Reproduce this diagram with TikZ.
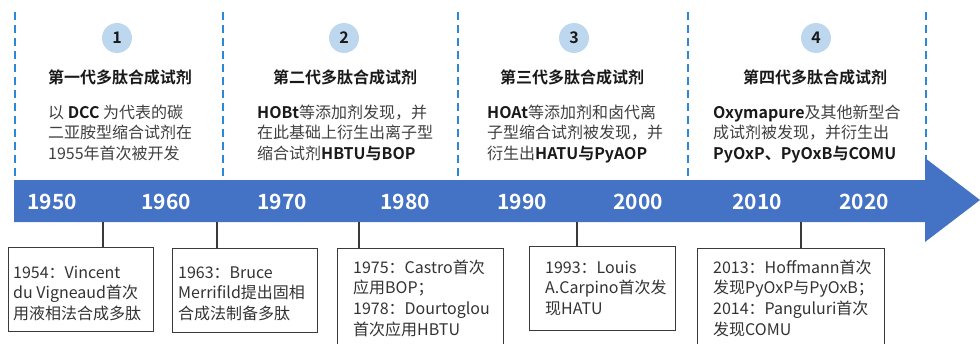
\documentclass[tikz,border=0pt]{standalone}
\usepackage{fontspec}
\setmainfont{Noto Sans CJK SC}[BoldFont={Noto Sans CJK SC Bold}]
\definecolor{barblue}{HTML}{4472C4}
\definecolor{dashblue}{RGB}{45,135,215}
\definecolor{circfill}{HTML}{BDD7EE}
\definecolor{bodygray}{HTML}{404040}
\definecolor{boxgray}{HTML}{333333}
\definecolor{linegray}{HTML}{3A3A3A}
\newcommand\fl{\rule{0pt}{15pt}}
\newcommand\B[1]{{\bfseries\color{black!90}#1}}
\tikzset{
  body/.style={anchor=north west, inner sep=0pt, align=left, text=bodygray, font=\fontsize{16}{20.5}\selectfont},
  boxtxt/.style={anchor=north west, inner sep=0pt, align=left, text=boxgray, font=\fontsize{16}{20.7}\selectfont},
  title/.style={anchor=base, inner sep=0pt, text=black!90, font=\bfseries\fontsize{16}{20}\selectfont},
  num/.style={circle, fill=circfill, minimum size=30pt, inner sep=0pt, text=black!90, font=\bfseries\fontsize{16}{16}\selectfont},
  year/.style={anchor=base, inner sep=0pt, text=white, font=\bfseries\fontsize{21}{21}\selectfont},
  evbox/.style={draw=linegray, line width=1.2pt, anchor=north west, inner sep=0pt},
  sep/.style={draw=dashblue, line width=2pt, dash pattern=on 8pt off 5pt},
  conn/.style={draw=linegray, line width=1.2pt},
}
\begin{document}
\begin{tikzpicture}[x=1pt,y=-1pt]
\useasboundingbox (0,0) rectangle (980,343);
\clip (0,0) rectangle (980,343);
% dashed separators
\foreach \x in {15,222.5,458,688,926}{
  \draw[sep] (\x,12) -- (\x,180);
}
% timeline arrow
\fill[barblue] (14,180) -- (925,180) -- (925,158) -- (980,200) -- (925,242) -- (925,222) -- (14,222) -- cycle;
% years
\node[year] (y1950) at (52,209) {1950};
\node[year] (y1960) at (166,209) {1960};
\node[year] (y1970) at (282,209) {1970};
\node[year] (y1980) at (405,209) {1980};
\node[year] (y1990) at (522,209) {1990};
\node[year] (y2000) at (638,209) {2000};
\node[year] (y2010) at (757,209) {2010};
\node[year] (y2020) at (864,209) {2020};
% circles
\node[num] (n1) at (117,38) {1};
\node[num] (n2) at (344,38) {2};
\node[num] (n3) at (574,38) {3};
\node[num] (n4) at (816,38) {4};
% titles
\node[title] (t1) at (120,83) {第一代多肽合成试剂};
\node[title] (t2) at (345,83) {第二代多肽合成试剂};
\node[title] (t3) at (572,83) {第三代多肽合成试剂};
\node[title] (t4) at (815,83) {第四代多肽合成试剂};
% generation texts
\node[body] (g1) at (48,103) {\fl 以 \B{DCC} 为代表的碳\\二亚胺型缩合试剂在\\1955年首次被开发};
\node[body] (g2) at (257,103) {\fl\B{HOBt}等添加剂发现，并\\在此基础上衍生出离子型\\缩合试剂\B{HBTU与BOP}};
\node[body] (g3) at (487,103) {\fl\B{HOAt}等添加剂和卤代离\\子型缩合试剂被发现，并\\衍生出\B{HATU与PyAOP}};
\node[body] (g4) at (713,103) {\fl\B{Oxymapure}及其他新型合\\成试剂被发现，并衍生出\\\B{PyOxP、PyOxB与COMU}};
% event boxes
\node[evbox, minimum width=145pt, minimum height=84pt] (b1) at (8,247) {};
\node[evbox, minimum width=145pt, minimum height=84pt] (b2) at (172,248) {};
\node[evbox, minimum width=166pt, minimum height=110pt] (b3) at (337,248) {};
\node[evbox, minimum width=146pt, minimum height=84pt] (b4) at (529,246) {};
\node[evbox, minimum width=187pt, minimum height=110pt] (b5) at (697,248) {};
\node[boxtxt] (e1) at (13,263) {\fl 1954：Vincent\\du Vigneaud首次\\用液相法合成多肽};
\node[boxtxt] (e2) at (178,263) {\fl 1963：Bruce\\Merrifild提出固相\\合成法制备多肽};
\node[boxtxt] (e3) at (353,258) {\fl 1975：Castro首次\\应用BOP；\\1978：Dourtoglou\\首次应用HBTU};
\node[boxtxt] (e4) at (545,258) {\fl 1993：Louis\\A.Carpino首次发\\现HATU};
\node[boxtxt] (e5) at (713,258) {\fl 2013：Hoffmann首次\\发现PyOxP与PyOxB；\\2014：Panguluri首次\\发现COMU};
% connectors
\coordinate (c1) at (103,222);
\coordinate (c2) at (217,222);
\coordinate (c3) at (359,222);
\coordinate (c4) at (577,222);
\coordinate (c5) at (801,222);
\draw[conn] (c1) -- (c1 |- b1.north);
\draw[conn] (c2) -- (c2 |- b2.north);
\draw[conn] (c3) -- (c3 |- b3.north);
\draw[conn] (c4) -- (c4 |- b4.north);
\draw[conn] (c5) -- (c5 |- b5.north);
\end{tikzpicture}
\end{document}
